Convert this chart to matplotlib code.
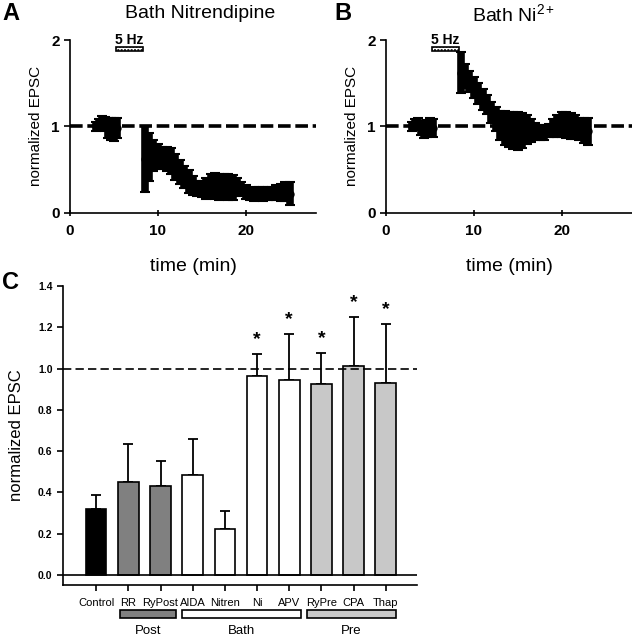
import numpy as np
import matplotlib.pyplot as plt
from matplotlib.patches import Rectangle

plt.rcParams['font.family'] = ['Liberation Sans', 'DejaVu Sans']
plt.rcParams['mathtext.fontset'] = 'custom'
plt.rcParams['mathtext.rm'] = 'Liberation Sans'
plt.rcParams['mathtext.it'] = 'Liberation Sans:italic'
plt.rcParams['mathtext.bf'] = 'Liberation Sans:bold'

# ---- panel A : bath nitrendipine (time, mean, sem)
a_t = [3.0, 3.33, 3.67, 4.0, 4.33, 4.67, 5.0, 5.33,
       8.5, 9.0, 9.5, 10.0, 10.5, 11.0, 11.5, 12.0, 12.5, 13.0, 13.5, 14.0,
       14.5, 15.0, 15.5, 16.0, 16.5, 17.0, 17.5, 18.0, 18.5, 19.0, 19.5,
       20.0, 20.5, 21.0, 21.5, 22.0, 22.5, 23.0, 23.5, 24.0, 24.5, 25.0]
a_m = [1.00, 1.02, 1.05, 1.03, 0.98, 0.97, 0.96, 0.98,
       0.62, 0.64, 0.66, 0.65, 0.63, 0.62, 0.60, 0.53, 0.47, 0.41, 0.36, 0.31,
       0.28, 0.27, 0.28, 0.31, 0.31, 0.30, 0.31, 0.30, 0.29, 0.30, 0.27,
       0.24, 0.21, 0.21, 0.22, 0.21, 0.22, 0.22, 0.23, 0.23, 0.24, 0.22]
a_e = [0.05, 0.06, 0.07, 0.08, 0.12, 0.13, 0.13, 0.12,
       0.38, 0.28, 0.18, 0.14, 0.13, 0.14, 0.15, 0.15, 0.14, 0.13, 0.13, 0.11,
       0.09, 0.09, 0.12, 0.14, 0.15, 0.15, 0.14, 0.15, 0.14, 0.10, 0.08,
       0.08, 0.07, 0.08, 0.08, 0.08, 0.08, 0.08, 0.09, 0.10, 0.11, 0.13]

# ---- panel B : bath Ni2+
b_t = [3.0, 3.33, 3.67, 4.0, 4.33, 4.67, 5.0, 5.33,
       8.5, 9.0, 9.5, 10.0, 10.5, 11.0, 11.5, 12.0, 12.5, 13.0, 13.5, 14.0,
       14.5, 15.0, 15.5, 16.0, 16.5, 17.0, 17.5, 18.0, 18.5, 19.0, 19.5,
       20.0, 20.5, 21.0, 21.5, 22.0, 22.5, 23.0]
b_m = [1.00, 1.02, 1.03, 0.98, 0.96, 0.97, 1.00, 0.98,
       1.62, 1.58, 1.52, 1.45, 1.38, 1.31, 1.25, 1.16, 1.08, 1.01, 0.98, 0.96,
       0.95, 0.95, 0.95, 0.96, 0.95, 0.94, 0.93, 0.93, 0.95, 0.98, 1.00,
       1.02, 1.01, 1.00, 0.99, 0.97, 0.95, 0.94]
b_e = [0.05, 0.06, 0.07, 0.08, 0.10, 0.10, 0.09, 0.10,
       0.24, 0.14, 0.12, 0.12, 0.12, 0.12, 0.11, 0.12, 0.14, 0.17, 0.20, 0.20,
       0.21, 0.22, 0.20, 0.17, 0.13, 0.10, 0.09, 0.09, 0.08, 0.10, 0.13,
       0.14, 0.15, 0.15, 0.14, 0.13, 0.14, 0.16]

# ---- panel C : summary
cats = ['Control', 'RR', 'RyPost', 'AIDA', 'Nitren', 'Ni', 'APV', 'RyPre', 'CPA', 'Thap']
vals = [0.32, 0.45, 0.43, 0.484, 0.224, 0.964, 0.943, 0.925, 1.012, 0.931]
errs = [0.07, 0.186, 0.121, 0.176, 0.086, 0.106, 0.224, 0.151, 0.237, 0.284]
cols = ['black', '#808080', '#808080', 'white', 'white', 'white', 'white',
        '#c8c8c8', '#c8c8c8', '#c8c8c8']
signif = [False, False, False, False, False, True, True, True, True, True]
groups = ['Post', 'Bath', 'Pre']
group_span = [(0.74, 2.48), (2.67, 6.37), (6.55, 9.32)]
group_col = ['#808080', 'white', '#c8c8c8']

fig = plt.figure(figsize=(6.32, 6.39), dpi=100)


def time_panel(ax, t, m, e, title, letter, lx, tx):
    ax.axhline(1, color='k', lw=2.6, dashes=(3.5, 1.3), zorder=1)
    ax.errorbar(t, m, yerr=e, fmt='o', color='k', ms=5, elinewidth=5.5,
                capsize=3.5, capthick=1.5, zorder=2)
    ax.set_xlim(0, 28)
    ax.set_ylim(0, 2)
    ax.set_xticks([0, 10, 20])
    ax.set_yticks([0, 1, 2])
    for s in ['top', 'right']:
        ax.spines[s].set_visible(False)
    ax.spines['left'].set_linewidth(1.2)
    ax.spines['bottom'].set_linewidth(1.2)
    ax.tick_params(axis='y', direction='out', length=4, width=1.2, labelsize=11)
    ax.tick_params(axis='x', direction='inout', length=5, width=1.2, labelsize=11, pad=6)
    for lab in ax.get_xticklabels() + ax.get_yticklabels():
        lab.set_fontweight('bold')
    ax.set_ylabel('normalized EPSC', fontsize=11, labelpad=6)
    ax.set_xlabel('time (min)', fontsize=14, labelpad=14)
    ax.add_patch(Rectangle((5.2, 1.87), 3.1, 0.045, facecolor='white',
                           edgecolor='k', hatch='.....', lw=1.2, clip_on=False))
    ax.text(6.75, 1.92, '5 Hz', ha='center', va='bottom', fontsize=10,
            fontweight='bold', clip_on=False)
    fig.text(tx / 632, 1 - 14 / 639, title, ha='center', va='center', fontsize=14)
    fig.text(lx / 632, 1 - 14 / 639, letter, ha='left', va='center',
             fontsize=17, fontweight='bold')


axA = fig.add_axes([70 / 632, 1 - 212.5 / 639, 246 / 632, 172.5 / 639])
time_panel(axA, a_t, a_m, a_e, 'Bath Nitrendipine', 'A', 2, 200)
axB = fig.add_axes([386 / 632, 1 - 212.5 / 639, 246 / 632, 172.5 / 639])
time_panel(axB, b_t, b_m, b_e, r'Bath Ni$^{\mathregular{2+}}$', 'B', 334, 514)

# ---- panel C
axC = fig.add_axes([63 / 632, 1 - 585 / 639, 354 / 632, 299 / 639])
x = np.arange(len(cats))
axC.bar(x, vals, width=0.64, color=cols, edgecolor='k', lw=1.2, zorder=2)
axC.errorbar(x, vals, yerr=[np.zeros(len(errs)), errs], fmt='none', ecolor='k',
             elinewidth=1.3, capsize=3.5, capthick=1.3, zorder=1)
axC.axhline(1.0, color='k', lw=1.2, dashes=(5, 2.5), zorder=3)
axC.axhline(0.0, color='k', lw=1.2, zorder=3)
for xi, v, er, s in zip(x, vals, errs, signif):
    if s:
        axC.text(xi, v + er + 0.03, '*', ha='center', va='bottom',
                 fontsize=14, fontweight='bold')
axC.set_xlim(-1.03, 9.97)
axC.set_ylim(-0.048, 1.4)
axC.set_yticks(np.arange(0, 1.41, 0.2))
axC.set_yticklabels(['%.1f' % v for v in np.arange(0, 1.41, 0.2)])
axC.set_xticks(x)
axC.set_xticklabels(cats)
for s in ['top', 'right']:
    axC.spines[s].set_visible(False)
axC.spines['left'].set_linewidth(1.2)
axC.spines['bottom'].set_linewidth(1.2)
axC.tick_params(axis='y', direction='out', length=4, width=1.2, labelsize=7.5)
axC.tick_params(axis='x', direction='out', length=4, width=1.2, labelsize=8, pad=5)
for lab in axC.get_yticklabels():
    lab.set_fontweight('bold')
axC.set_ylabel('normalized EPSC', fontsize=12, labelpad=10)

for name, (x0, x1), gc in zip(groups, group_span, group_col):
    axC.add_patch(Rectangle((x0, -0.208), x1 - x0, 0.038, facecolor=gc,
                            edgecolor='k', lw=1.2, clip_on=False))
    axC.text((x0 + x1) / 2, -0.243, name, ha='center', va='top', fontsize=9.5)

fig.text(2 / 632, 1 - 283 / 639, 'C', ha='left', va='center',
         fontsize=17, fontweight='bold')

fig.savefig('out.png', dpi=100)
